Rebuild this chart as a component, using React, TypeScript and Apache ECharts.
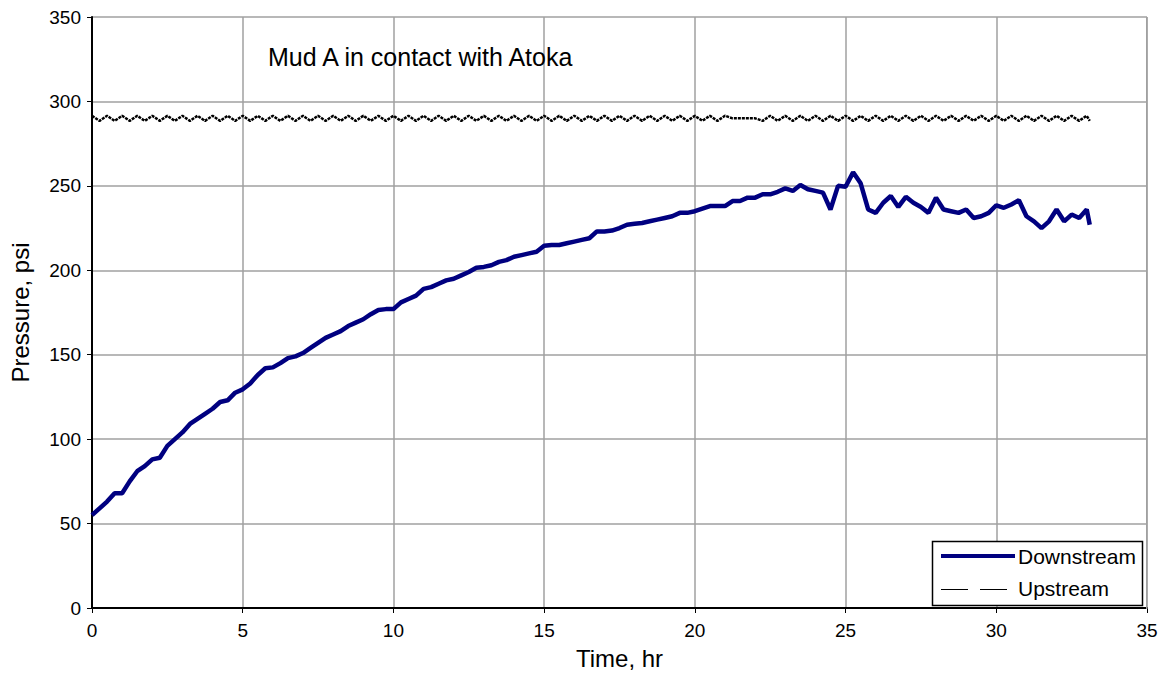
import React, { useEffect, useRef } from "react";
import * as echarts from "echarts";

const TIME_HR = [
  0, 0.25, 0.5, 0.75, 1, 1.25, 1.5, 1.75, 2, 2.25, 2.5, 2.75, 3, 3.25, 3.5, 3.75,
  4, 4.25, 4.5, 4.75, 5, 5.25, 5.5, 5.75, 6, 6.25, 6.5, 6.75, 7, 7.25, 7.5, 7.75,
  8, 8.25, 8.5, 8.75, 9, 9.25, 9.5, 9.75, 10, 10.25, 10.5, 10.75, 11, 11.25, 11.5, 11.75,
  12, 12.25, 12.5, 12.75, 13, 13.25, 13.5, 13.75, 14, 14.25, 14.5, 14.75, 15, 15.25, 15.5, 15.75,
  16, 16.25, 16.5, 16.75, 17, 17.25, 17.5, 17.75, 18, 18.25, 18.5, 18.75, 19, 19.25, 19.5, 19.75,
  20, 20.25, 20.5, 20.75, 21, 21.25, 21.5, 21.75, 22, 22.25, 22.5, 22.75, 23, 23.25, 23.5, 23.75,
  24, 24.25, 24.5, 24.75, 25, 25.25, 25.5, 25.75, 26, 26.25, 26.5, 26.75, 27, 27.25, 27.5, 27.75,
  28, 28.25, 28.5, 28.75, 29, 29.25, 29.5, 29.75, 30, 30.25, 30.5, 30.75, 31, 31.25, 31.5, 31.75,
  32, 32.25, 32.5, 32.75, 33, 33.1,
];

const DOWNSTREAM_PSI = [
  55, 59, 63, 68, 68, 75, 81, 84, 88, 89, 96, 100, 104, 109, 112, 115,
  118, 122, 123, 127.5, 129.5, 133, 138, 142, 142.5, 145, 148, 149, 151, 154, 157, 160,
  162, 164, 167, 169, 171, 174, 176.5, 177, 177, 181, 183, 185, 189, 190, 192, 194,
  195, 197, 199, 201.5, 202, 203, 205, 206, 208, 209, 210, 211, 214.5, 215, 215, 216,
  217, 218, 219, 223, 223, 223.5, 225, 227, 227.5, 228, 229, 230, 231, 232, 234, 234,
  235, 236.5, 238, 238, 238, 241, 241, 243, 243, 245, 245, 246.5, 248.5, 247, 250.5, 248,
  247, 246, 236, 250, 249.5, 258, 251.5, 236, 234, 240, 244, 237.5, 243.5, 240, 237.5, 234,
  243, 236, 235, 234, 236, 231, 232, 234, 238.5, 237, 239, 241.5, 232, 229, 225, 229,
  236, 229, 233, 231, 236, 227,
];

const UPSTREAM_PSI = [
  291.5, 288.5, 291.5, 288.5, 291.5, 288.5, 291.5, 288.5, 291.5, 288.5, 291.5, 288.5, 291.5, 288.5, 291.5, 288.5,
  291.5, 288.5, 291.5, 288.5, 291.5, 288.5, 291.5, 288.5, 291.5, 288.5, 291.5, 288.5, 291.5, 288.5, 291.5, 288.5,
  291.5, 288.5, 291.5, 288.5, 291.5, 288.5, 291.5, 288.5, 291.5, 288.5, 291.5, 288.5, 291.5, 288.5, 291.5, 288.5,
  291.5, 288.5, 291.5, 288.5, 291.5, 288.5, 291.5, 288.5, 291.5, 288.5, 291.5, 288.5, 291.5, 288.5, 291.5, 288.5,
  291.5, 288.5, 291.5, 288.5, 291.5, 288.5, 291.5, 288.5, 291.5, 288.5, 291.5, 288.5, 291.5, 288.5, 291.5, 288.5,
  291.5, 288.5, 291.5, 288.5, 291.5, 290, 290, 290, 290, 288.5, 291.5, 288.5, 291.5, 288.5, 291.5, 288.5,
  291.5, 288.5, 291.5, 288.5, 291.5, 288.5, 291.5, 288.5, 291.5, 288.5, 291.5, 288.5, 291.5, 288.5, 291.5, 288.5,
  291.5, 288.5, 291.5, 288.5, 291.5, 288.5, 291.5, 288.5, 291.5, 288.5, 291.5, 288.5, 291.5, 288.5, 291.5, 288.5,
  291.5, 288.5, 291.5, 288.5, 291.5, 288.5,
];

const X_TICKS = [0, 5, 10, 15, 20, 25, 30, 35];
const Y_TICKS = [0, 50, 100, 150, 200, 250, 300, 350];

const FONT = "Liberation Sans, Arial, sans-serif";

export default function App() {
  const ref = useRef<HTMLDivElement>(null);

  useEffect(() => {
    if (!ref.current) return;
    const chart = echarts.init(ref.current, undefined, { renderer: "svg" });
    const down = TIME_HR.map((t, i) => [t, DOWNSTREAM_PSI[i]]);
    const up = TIME_HR.map((t, i) => [t, UPSTREAM_PSI[i]]);
    chart.setOption({
      animation: false,
      backgroundColor: "#ffffff",
      textStyle: { fontFamily: FONT },
      grid: { left: 92, top: 17, right: 16, bottom: 66, containLabel: false },
      xAxis: {
        type: "value",
        min: X_TICKS[0],
        max: X_TICKS[X_TICKS.length - 1],
        interval: 5,
        name: "Time, hr",
        nameLocation: "middle",
        nameGap: 38,
        nameTextStyle: { fontSize: 24, color: "#000", fontFamily: FONT },
        axisLine: { show: true, lineStyle: { color: "#000", width: 2 } },
        axisTick: { show: true, length: 5, lineStyle: { color: "#000", width: 1 } },
        axisLabel: { fontSize: 19, color: "#000", margin: 13, fontFamily: FONT },
        splitLine: { show: true, lineStyle: { color: "#a0a0a0", width: 1.5 } },
      },
      yAxis: {
        type: "value",
        min: Y_TICKS[0],
        max: Y_TICKS[Y_TICKS.length - 1],
        interval: 50,
        name: "Pressure, psi",
        nameLocation: "middle",
        nameGap: 60,
        nameTextStyle: { fontSize: 24, color: "#000", fontFamily: FONT },
        axisLine: { show: true, lineStyle: { color: "#000", width: 2 } },
        axisTick: { show: true, length: 5, lineStyle: { color: "#000", width: 1 } },
        axisLabel: { fontSize: 19, color: "#000", margin: 11, fontFamily: FONT },
        splitLine: { show: true, lineStyle: { color: "#a0a0a0", width: 1.5 } },
      },
      graphic: [
        {
          type: "rect",
          z: 50,
          shape: { x: 1146, y: 17, width: 1.5, height: 592 },
          style: { fill: "#a0a0a0" },
          silent: true,
        },
        {
          type: "text",
          z: 50,
          x: 268,
          y: 57,
          style: {
            text: "Mud A in contact with Atoka",
            fontSize: 25,
            fill: "#000",
            fontFamily: FONT,
            textVerticalAlign: "middle",
          },
        },
        {
          type: "group",
          z: 100,
          children: [
            {
              type: "rect",
              z: 100,
              shape: { x: 932.5, y: 541.5, width: 210, height: 64 },
              style: { fill: "#fff", stroke: "#000", lineWidth: 1.5 },
            },
            {
              type: "line",
              z: 101,
              shape: { x1: 941, y1: 556, x2: 1015, y2: 556 },
              style: { stroke: "#000080", lineWidth: 4 },
            },
            {
              type: "text",
              z: 101,
              x: 1018,
              y: 556,
              style: {
                text: "Downstream",
                fontSize: 21,
                fill: "#000",
                fontFamily: FONT,
                textVerticalAlign: "middle",
              },
            },
            {
              type: "line",
              z: 101,
              shape: { x1: 941, y1: 589.5, x2: 1010, y2: 589.5 },
              style: { stroke: "#000", lineWidth: 1, lineDash: [27, 12] },
            },
            {
              type: "text",
              z: 101,
              x: 1018,
              y: 588,
              style: {
                text: "Upstream",
                fontSize: 21,
                fill: "#000",
                fontFamily: FONT,
                textVerticalAlign: "middle",
              },
            },
          ],
        },
      ],
      series: [
        {
          name: "Upstream",
          type: "line",
          data: up,
          symbol: "none",
          z: 2,
          lineStyle: { color: "#000", width: 2.5, type: [3, 1] },
          itemStyle: { color: "#000" },
        },
        {
          name: "Downstream",
          type: "line",
          data: down,
          symbol: "none",
          z: 3,
          lineStyle: { color: "#000080", width: 4.5 },
          itemStyle: { color: "#000080" },
        },
      ],
    });
    return () => chart.dispose();
  }, []);

  return (
    <div
      ref={ref}
      style={{ position: "fixed", left: 0, top: 0, width: 1163, height: 675, background: "#fff" }}
    />
  );
}
